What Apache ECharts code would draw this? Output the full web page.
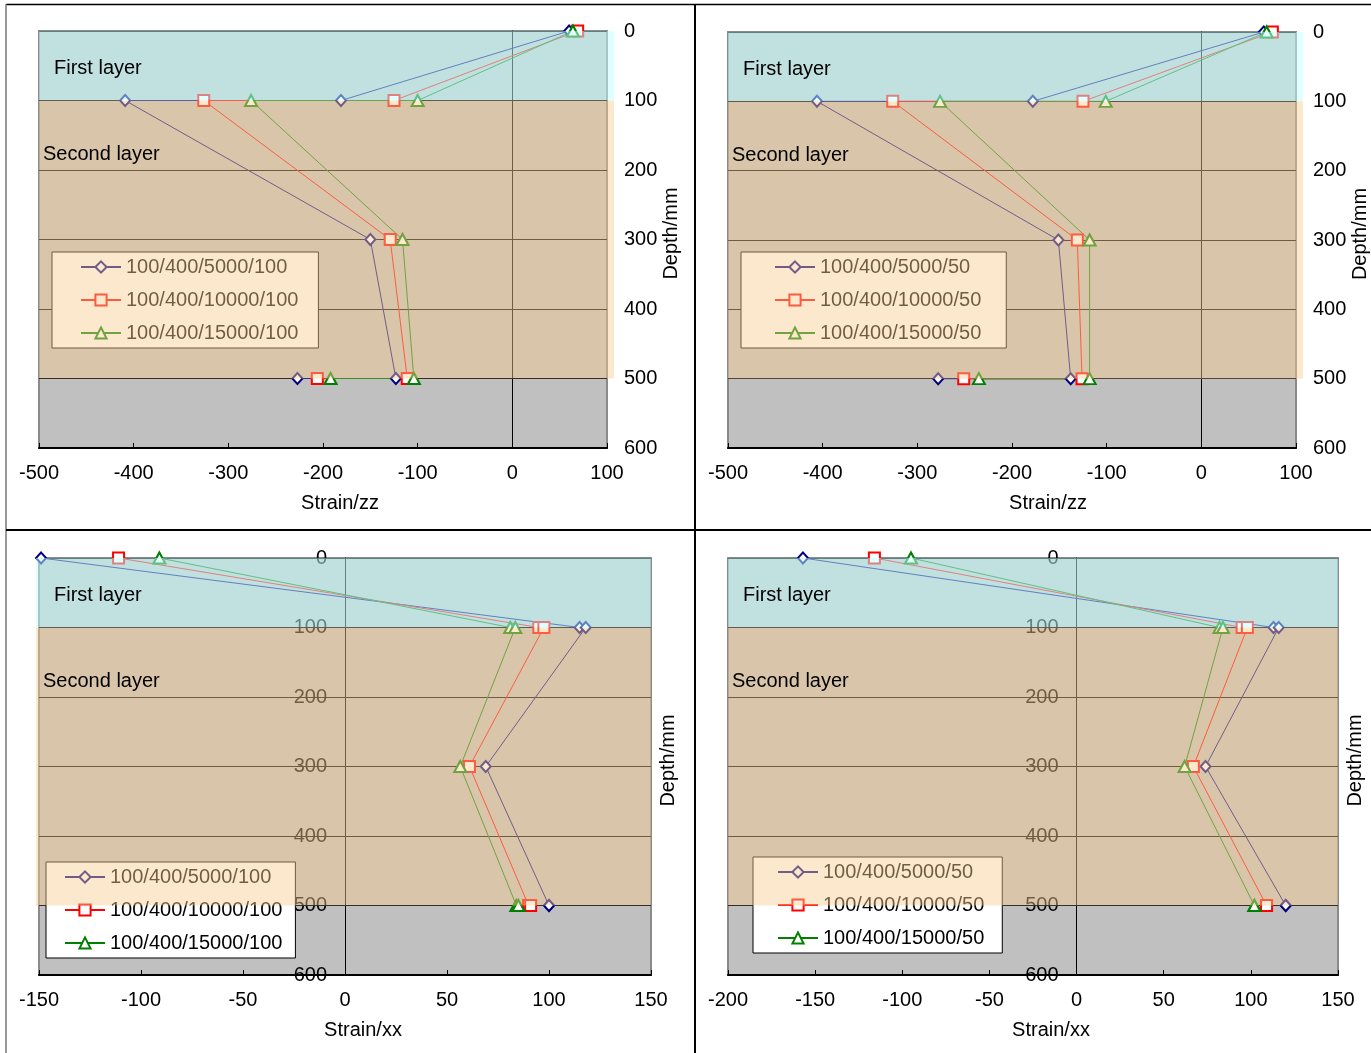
<!DOCTYPE html>
<html><head><meta charset="utf-8">
<script src="https://cdn.jsdelivr.net/npm/echarts@6/dist/echarts.min.js"></script>
<style>html,body{margin:0;padding:0;background:#fff}#c{width:1371px;height:1053px}</style>
</head><body><div id="c"></div>
<script>
// ---------- data ----------
const depthLevels = [0, 100, 100, 300, 500, 500];
const depthTicks = [0, 100, 200, 300, 400, 500, 600];
const layerBounds = [[0, 100], [100, 500]];
const layerNames = ['First layer', 'Second layer'];

const namesCase100 = ['100/400/5000/100', '100/400/10000/100', '100/400/15000/100'];
const namesCase50 = ['100/400/5000/50', '100/400/10000/50', '100/400/15000/50'];

// Strain zz, case /100
const zz100_5000 = [60, -181, -409, -150, -123, -227];
const zz100_10000 = [69, -125, -326, -129, -111, -206];
const zz100_15000 = [64, -100, -276, -116, -104, -192];
// Strain zz, case /50
const zz50_5000 = [66, -178, -406, -151, -138, -278];
const zz50_10000 = [75, -125, -326, -131, -126, -251];
const zz50_15000 = [69, -101, -276, -118, -118, -235];
// Strain xx, case /100
const xx100_5000 = [-149, 115, 118, 69, 100, 100];
const xx100_10000 = [-111, 95, 97.5, 61, 90, 91];
const xx100_15000 = [-91, 81, 83.5, 56.5, 84, 85];
// Strain xx, case /50
const xx50_5000 = [-157, 113, 116, 74, 120, 120];
const xx50_10000 = [-116, 95, 98, 67, 109, 109];
const xx50_15000 = [-95, 82, 84, 62, 102, 102];

const xTicksZZ = [-500, -400, -300, -200, -100, 0, 100];
const xTicksXX100 = [-150, -100, -50, 0, 50, 100, 150];
const xTicksXX50 = [-200, -150, -100, -50, 0, 50, 100, 150];

// ---------- styles / layout ----------
const FONT = '"Liberation Sans", Arial, sans-serif';
const seriesColors = ['#000080', '#ff0000', '#008000'];
const seriesSymbols = ['emptyDiamond', 'emptyRect', 'emptyTriangle'];
const seriesSizes = [[10, 11], [11, 11], [12, 11]];
const layerStyle = [
  { fill: 'rgba(193,255,255,0.5)', tx: 15, ty: 37 },
  { fill: 'rgba(248,203,145,0.45)', tx: 4, ty: 54 }
];

const panels = [
  { grid: { left: 39, top: 31, width: 568, height: 417 }, xTicks: xTicksZZ, xName: 'Strain/zz', xNamePad: 34,
    names: namesCase100, values: [zz100_5000, zz100_10000, zz100_15000], labelsAtZero: false, pad: [0, 7],
    legend: { left: 52, top: 252, padding: [5, 20, 5, 28] } },
  { grid: { left: 728, top: 32, width: 568, height: 416 }, xTicks: xTicksZZ, xName: 'Strain/zz', xNamePad: 72,
    names: namesCase50, values: [zz50_5000, zz50_10000, zz50_15000], labelsAtZero: false, pad: [0, 7],
    legend: { left: 741, top: 252, padding: [5, 25, 5, 33] } },
  { grid: { left: 39, top: 558, width: 612, height: 417 }, xTicks: xTicksXX100, xName: 'Strain/xx', xNamePad: 36,
    names: namesCase100, values: [xx100_5000, xx100_10000, xx100_15000], labelsAtZero: true, pad: [3, 0],
    legend: { left: 46, top: 862, padding: [5, 13, 5, 18] } },
  { grid: { left: 728, top: 558, width: 610, height: 417 }, xTicks: xTicksXX50, xName: 'Strain/xx', xNamePad: 36,
    names: namesCase50, values: [xx50_5000, xx50_10000, xx50_15000], labelsAtZero: true, pad: [0, 0],
    legend: { left: 753, top: 857, padding: [5, 18, 5, 24] } }
];

const grids = [], xAxes = [], yAxes = [], series = [], legends = [];

panels.forEach((p, pi) => {
  grids.push(Object.assign({ show: true, backgroundColor: '#c0c0c0', borderColor: '#8a8a8a', borderWidth: 2,
    containLabel: false, outerBoundsMode: 'none' }, p.grid));
  const xs = p.xTicks;
  const xMin = xs[0], xMax = xs[xs.length - 1];
  xAxes.push({
    type: 'value', gridIndex: pi, min: xMin, max: xMax, interval: xs[1] - xs[0],
    position: 'bottom',
    axisLine: { onZero: false, lineStyle: { color: '#000', width: 2 } },
    axisTick: { show: true, inside: true, length: 5, lineStyle: { color: '#000' } },
    axisLabel: { color: '#000', fontSize: 20, fontFamily: FONT, margin: 15, showMinLabel: true, showMaxLabel: true },
    splitLine: { show: false },
    name: p.xName, nameLocation: 'middle', nameGap: 45,
    nameTextStyle: { color: '#000', fontSize: 20, fontFamily: FONT, padding: [0, 0, 0, p.xNamePad] }
  });
  const yMin = depthTicks[0], yMax = depthTicks[depthTicks.length - 1], yStep = depthTicks[1] - depthTicks[0];
  const mainY = yAxes.length;
  if (!p.labelsAtZero) {
    yAxes.push({
      type: 'value', gridIndex: pi, min: yMin, max: yMax, interval: yStep, inverse: true, position: 'right',
      axisLine: { show: false, onZero: false }, axisTick: { show: false },
      axisLabel: { color: '#000', fontSize: 20, fontFamily: FONT, margin: 17, showMinLabel: true, showMaxLabel: true },
      splitLine: { show: true, lineStyle: { color: '#000', width: 1 } },
      name: 'Depth/mm', nameLocation: 'middle', nameGap: 51,
      nameTextStyle: { color: '#000', fontSize: 20, fontFamily: FONT, padding: [0, 0, 0, 12] }
    });
    yAxes.push({
      type: 'value', gridIndex: pi, min: yMin, max: yMax, interval: yStep, inverse: true, position: 'left',
      axisLine: { show: true, onZero: true, lineStyle: { color: '#000', width: 1 } },
      axisTick: { show: false }, axisLabel: { show: false }, splitLine: { show: false }
    });
  } else {
    const zeroOffset = -((0 - xMin) / (xMax - xMin)) * p.grid.width;
    yAxes.push({
      type: 'value', gridIndex: pi, min: yMin, max: yMax, interval: yStep, inverse: true, position: 'left',
      offset: zeroOffset,
      axisLine: { show: true, onZero: false, lineStyle: { color: '#000', width: 1 } },
      axisTick: { show: true, length: 5, lineStyle: { color: '#000' } },
      axisLabel: { color: '#000', fontSize: 20, fontFamily: FONT, margin: 18, showMinLabel: true, showMaxLabel: true },
      splitLine: { show: true, lineStyle: { color: '#000', width: 1 } }
    });
    yAxes.push({
      type: 'value', gridIndex: pi, min: yMin, max: yMax, interval: yStep, inverse: true, position: 'right',
      axisLine: { show: false, onZero: false }, axisTick: { show: false }, axisLabel: { show: false },
      splitLine: { show: false },
      name: 'Depth/mm', nameLocation: 'middle', nameGap: 7,
      nameTextStyle: { color: '#000', fontSize: 20, fontFamily: FONT, padding: [0, 0, 0, 12] }
    });
  }

  p.values.forEach((vals, si) => {
    series.push({
      type: 'line', name: p.names[si], xAxisIndex: pi, yAxisIndex: mainY, z: 2,
      data: vals.map((v, i) => [v, depthLevels[i]]),
      symbol: seriesSymbols[si], symbolSize: seriesSizes[si], showAllSymbol: true,
      itemStyle: { color: seriesColors[si], borderWidth: 1 },
      lineStyle: { color: seriesColors[si], width: 1 },
      animation: false
    });
  });

  const pad = p.pad;
  series.push({
    type: 'custom', xAxisIndex: pi, yAxisIndex: mainY, z: 3, silent: true, clip: false,
    data: layerBounds.map(b => [0, b[0], b[1]]),
    encode: { x: 0, y: [1, 2] },
    renderItem: function (params, api) {
      const cs = params.coordSys;
      const i = params.dataIndex;
      const y0 = api.coord([0, api.value(1)])[1];
      const y1 = api.coord([0, api.value(2)])[1];
      const st = layerStyle[i];
      return {
        type: 'group', children: [
          { type: 'rect', shape: { x: cs.x - pad[0], y: y0, width: cs.width + pad[0] + pad[1], height: y1 - y0 },
            style: { fill: st.fill }, z2: 0 },
          { type: 'text', x: cs.x + st.tx, y: y0 + st.ty, z2: 50,
            style: { text: layerNames[i], fill: '#000', font: '20px ' + FONT, verticalAlign: 'middle', align: 'left' } }
        ]
      };
    },
    animation: false
  });

  legends.push({
    left: p.legend.left, top: p.legend.top, orient: 'vertical', z: 1,
    data: p.names, padding: p.legend.padding, itemGap: 13, itemWidth: 40, itemHeight: 14,
    backgroundColor: '#fff', borderColor: '#000', borderWidth: 1, borderRadius: 0,
    textStyle: { color: '#000', fontSize: 20, fontFamily: FONT },
    selectedMode: false
  });
});

const frame = [
  { type: 'line', shape: { x1: 6, y1: 4.5, x2: 1371, y2: 4.5 }, style: { stroke: '#000', lineWidth: 1.5 } },
  { type: 'line', shape: { x1: 6, y1: 4, x2: 6, y2: 1053 }, style: { stroke: '#777', lineWidth: 1.5 } },
  { type: 'line', shape: { x1: 6, y1: 530, x2: 1371, y2: 530 }, style: { stroke: '#000', lineWidth: 2 } },
  { type: 'line', shape: { x1: 695, y1: 4, x2: 695, y2: 1053 }, style: { stroke: '#000', lineWidth: 2 } }
];

const chart = echarts.init(document.getElementById('c'), null, { renderer: 'canvas' });
chart.setOption({
  animation: false,
  backgroundColor: '#fff',
  textStyle: { fontFamily: FONT },
  grid: grids, xAxis: xAxes, yAxis: yAxes, series: series, legend: legends,
  graphic: frame
});
</script></body></html>
